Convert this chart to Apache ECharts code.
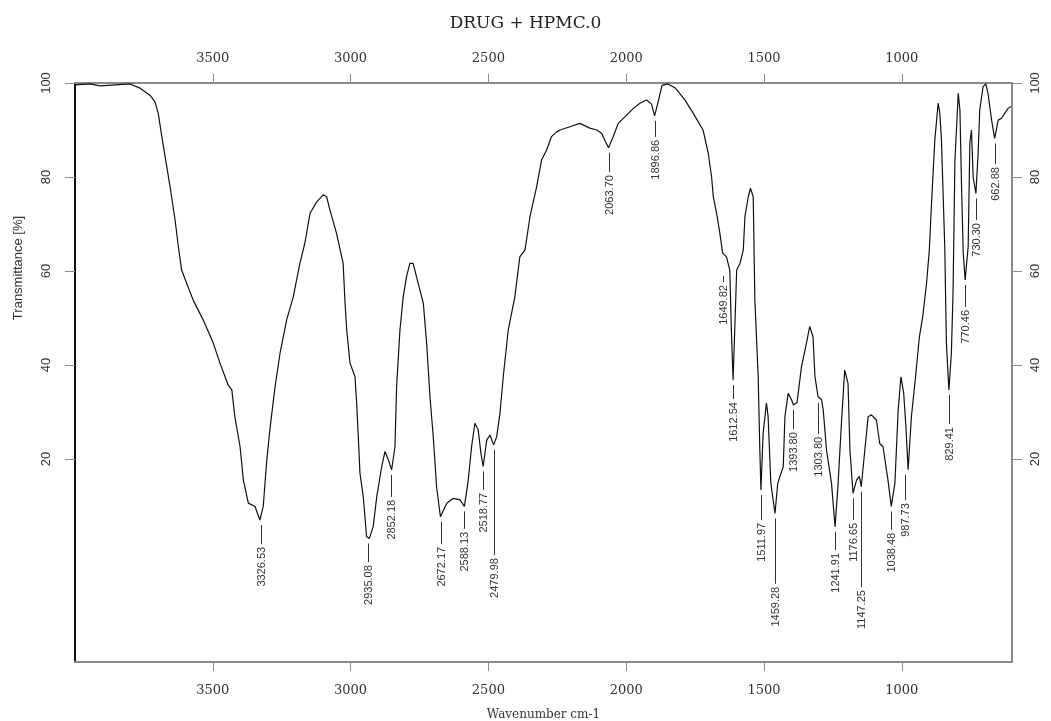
<!DOCTYPE html>
<html>
<head>
<meta charset="utf-8">
<script src="https://cdn.jsdelivr.net/npm/echarts@6/dist/echarts.min.js"></script>
<style>
html,body{margin:0;padding:0;background:#fff;}
#chart{width:1051px;height:721px;}
</style>
</head>
<body>
<div id="chart"></div>
<script>
// ---- data ----
const wavenumber = [4000,3946,3909,3800,3764,3728,3710,3698,3685,3667,3655,3637,3625,3613,3595,3571,3535,3498,3474,3444,3431,3420,3401,3389,3371,3347,3329,3317,3305,3293,3274,3256,3232,3208,3184,3166,3147,3123,3099,3087,3075,3051,3027,3020,3014,3002,2984,2978,2972,2966,2954,2942,2932,2918,2905,2887,2875,2863,2851,2839,2833,2821,2809,2797,2785,2773,2755,2736,2724,2712,2700,2688,2674,2651,2628,2603,2587,2573,2561,2549,2537,2527,2519,2506,2494,2481,2470,2458,2446,2428,2404,2386,2367,2349,2325,2307,2289,2271,2252,2240,2204,2168,2132,2107,2089,2075,2064,2047,2029,2005,1974,1950,1926,1908,1897,1884,1870,1849,1823,1787,1757,1721,1702,1690,1684,1672,1660,1650,1636,1624,1618,1612,1599,1587,1575,1569,1557,1549,1539,1533,1521,1515,1511,1503,1491,1485,1475,1460,1450,1442,1430,1424,1412,1400,1393,1380,1364,1346,1334,1322,1315,1304,1291,1285,1273,1255,1242,1231,1219,1207,1195,1188,1177,1164,1154,1147,1134,1122,1110,1092,1080,1068,1050,1038,1025,1013,1003,993,985,977,965,950,936,924,910,900,892,880,868,862,856,844,838,829,820,814,807,795,789,783,777,770,759,753,747,741,731,723,717,705,695,687,674,663,650,638,626,614,604];
const transmittance = [99.6,99.8,99.4,99.8,98.9,97.4,96,93.6,88.6,82.2,77.9,70.9,65.2,60.2,57.4,53.8,49.6,44.6,40.4,35.7,34.7,29,22.6,15.5,10.6,9.9,7.0,9.9,19.1,26.2,35.4,42.5,49.6,54.5,61.6,65.9,72.3,74.7,76.2,75.8,73,68,61.6,53.1,47.4,40.4,37.5,31.9,24.7,17,12,3.5,3.1,5.6,12,18.4,21.6,19.8,17.7,22.6,35.4,47.4,54.5,58.8,61.6,61.6,57.4,53.1,44.6,33.3,24.7,14.1,7.7,10.6,11.6,11.3,9.9,15.5,22.6,27.6,26.2,21.2,18.4,24,25.1,23,24.7,29.7,37.5,47.4,54.5,63,64.5,71.6,77.9,83.6,85.7,88.6,89.6,90,90.7,91.4,90.4,90,89.3,87.5,86.2,88.6,91.4,92.8,94.6,95.7,96.4,95.5,93,96,99.5,99.8,99,96.4,93.6,90,85,80,75.8,72.3,68,63.8,63,60.2,46.7,36.8,60.2,61.6,64.5,71.6,75.8,77.6,75.8,53.8,37.5,21.9,13.4,25.5,31.9,29,14.8,8.4,14.8,16.3,18.4,29,34,32.6,31.5,32,39.6,44.6,48.2,46,37.5,33.3,32.6,30.4,21.9,14.8,5.6,14.8,27.6,38.9,36.1,21.9,12.7,15.5,16.3,14.1,21.9,29,29.4,28.3,23.3,22.6,15.5,9.9,14.8,30.4,37.5,34,26.9,17.7,29,37.5,46,50.3,57.4,64.5,74.4,87.9,95.7,93.6,87.9,65.2,44.6,34.7,42.5,55.3,83.6,97.8,94.3,77.9,63.8,58.1,65.2,87.2,90,80,76.5,85,94.3,99.2,99.8,97.8,92.1,88.2,92.1,92.5,93.6,94.6,95];

const xTicks = [1000,1500,2000,2500,3000,3500];
const yTicks = [20,40,60,80,100];
const xRange = [600, 4000];
const yRange = [-23.2, 100];

const peakLabels = ['3326.53','2935.08','2852.18','2672.17','2588.13','2518.77','2479.98','2063.70','1896.86','1649.82','1612.54','1511.97','1459.28','1393.80','1303.80','1241.91','1176.65','1147.25','1038.48','987.73','829.41','770.46','730.30','662.88'];
const peakWn = [3326.53,2935.08,2852.18,2672.17,2588.13,2518.77,2479.98,2063.70,1896.86,1649.82,1612.54,1511.97,1459.28,1393.80,1303.80,1241.91,1176.65,1147.25,1038.48,987.73,829.41,770.46,730.30,662.88];
const peakT = [7.0,3.1,17.7,7.7,9.9,18.4,23,86.2,93,60,36.8,13.4,8.4,31.5,33,5.6,12.7,14.1,9.9,17.7,34.7,58.1,76.5,88.2];
const labelT = [1.3,-2.6,11.3,1.3,4.5,12.8,-1.1,80.4,87.9,57,32.1,6.4,-7.2,25.7,24.7,0,6.4,-7.9,4.3,10.6,26.8,51.7,70.2,82.1];

// ---- chart ----
const chart = echarts.init(document.getElementById('chart'), null, {renderer:'canvas'});
const grey = '#8a8a8a';
function xAxisDef(pos){
  return {
    type:'value', position:pos, min:xRange[0], max:xRange[1], inverse:true,
    axisLine:{show:true, onZero:false, lineStyle:{color:grey, width:2}},
    axisTick:{show:true, customValues:xTicks, length:9, lineStyle:{color:grey, width:1}},
    axisLabel:{show:true, customValues:xTicks, formatter:function(v){return String(v);},
      color:'#333', fontFamily:'DejaVu Serif', fontSize:13, margin: pos==='bottom' ? 22 : 18},
    splitLine:{show:false},
    name: pos==='bottom' ? 'Wavenumber cm-1' : '',
    nameLocation:'middle', nameGap:47,
    nameTextStyle:{color:'#333', fontFamily:'DejaVu Serif', fontSize:12}
  };
}
function yAxisDef(pos){
  return {
    type:'value', position:pos, min:yRange[0], max:yRange[1],
    axisLine:{show:true, onZero:false, lineStyle:{color: pos==='left' ? '#111' : grey, width:2}},
    axisTick:{show:true, customValues:yTicks, length:10, lineStyle:{color:grey, width:1}},
    axisLabel:{show:false},
    splitLine:{show:false}
  };
}

chart.setOption({
  animation:false,
  backgroundColor:'#fff',
  title:{text:'DRUG + HPMC.0', left:'center', top:10,
    textStyle:{fontFamily:'DejaVu Serif', fontSize:17, fontWeight:'normal', color:'#222'}},
  grid:{left:75, right:39, top:83, bottom:59, containLabel:false, outerBoundsMode:'none'},
  xAxis:[xAxisDef('bottom'), xAxisDef('top')],
  yAxis:[yAxisDef('left'), yAxisDef('right')],
  graphic:[
    {type:'text', x:18, y:268, rotation:Math.PI/2,
      style:{text:'Transmittance [%]', fill:'#333', fontSize:13, fontFamily:'Liberation Sans',
        align:'center', verticalAlign:'middle'}}
  ],
  series:[
    {
      type:'line', xAxisIndex:0, yAxisIndex:0,
      data: wavenumber.map((w,i)=>[w, transmittance[i]]),
      showSymbol:false, symbol:'none', smooth:false,
      lineStyle:{color:'#111', width:1.2}
    },
    {
      // rotated y tick labels on both sides, positioned through the y scale
      type:'custom', xAxisIndex:0, yAxisIndex:0, clip:false, silent:true,
      data: yTicks.map(v=>[xRange[1], v]),
      renderItem:function(params, api){
        const cs = params.coordSys;
        const y = api.coord([api.value(0), api.value(1)])[1];
        const txt = String(yTicks[params.dataIndex]);
        const st = {text:txt, fill:'#333', fontSize:13, fontFamily:'Liberation Sans', align:'center', verticalAlign:'middle'};
        return {type:'group', children:[
          {type:'text', x:cs.x-29, y:y, rotation:Math.PI/2, style:st},
          {type:'text', x:cs.x+cs.width+23, y:y, rotation:Math.PI/2, style:Object.assign({}, st)}
        ]};
      }
    },
    {
      type:'custom', xAxisIndex:0, yAxisIndex:0, clip:false, silent:true,
      data: peakWn.map((w,i)=>[w, peakT[i], labelT[i]]),
      renderItem:function(params, api){
        const w = api.value(0);
        const p = api.coord([w, api.value(1)]);
        const l = api.coord([w, api.value(2)]);
        const x = Math.round(p[0]) + 0.5;
        return {type:'group', children:[
          {type:'line', shape:{x1:x, y1:p[1]+5, x2:x, y2:l[1]-3}, style:{stroke:'#333', lineWidth:1}},
          {type:'text', x:x, y:l[1], rotation:Math.PI/2,
            style:{text:peakLabels[params.dataIndex], fill:'#333', fontSize:11,
              fontFamily:'Liberation Sans Narrow, Liberation Sans', align:'right', verticalAlign:'middle'}}
        ]};
      }
    }
  ]
});
</script>
</body>
</html>
